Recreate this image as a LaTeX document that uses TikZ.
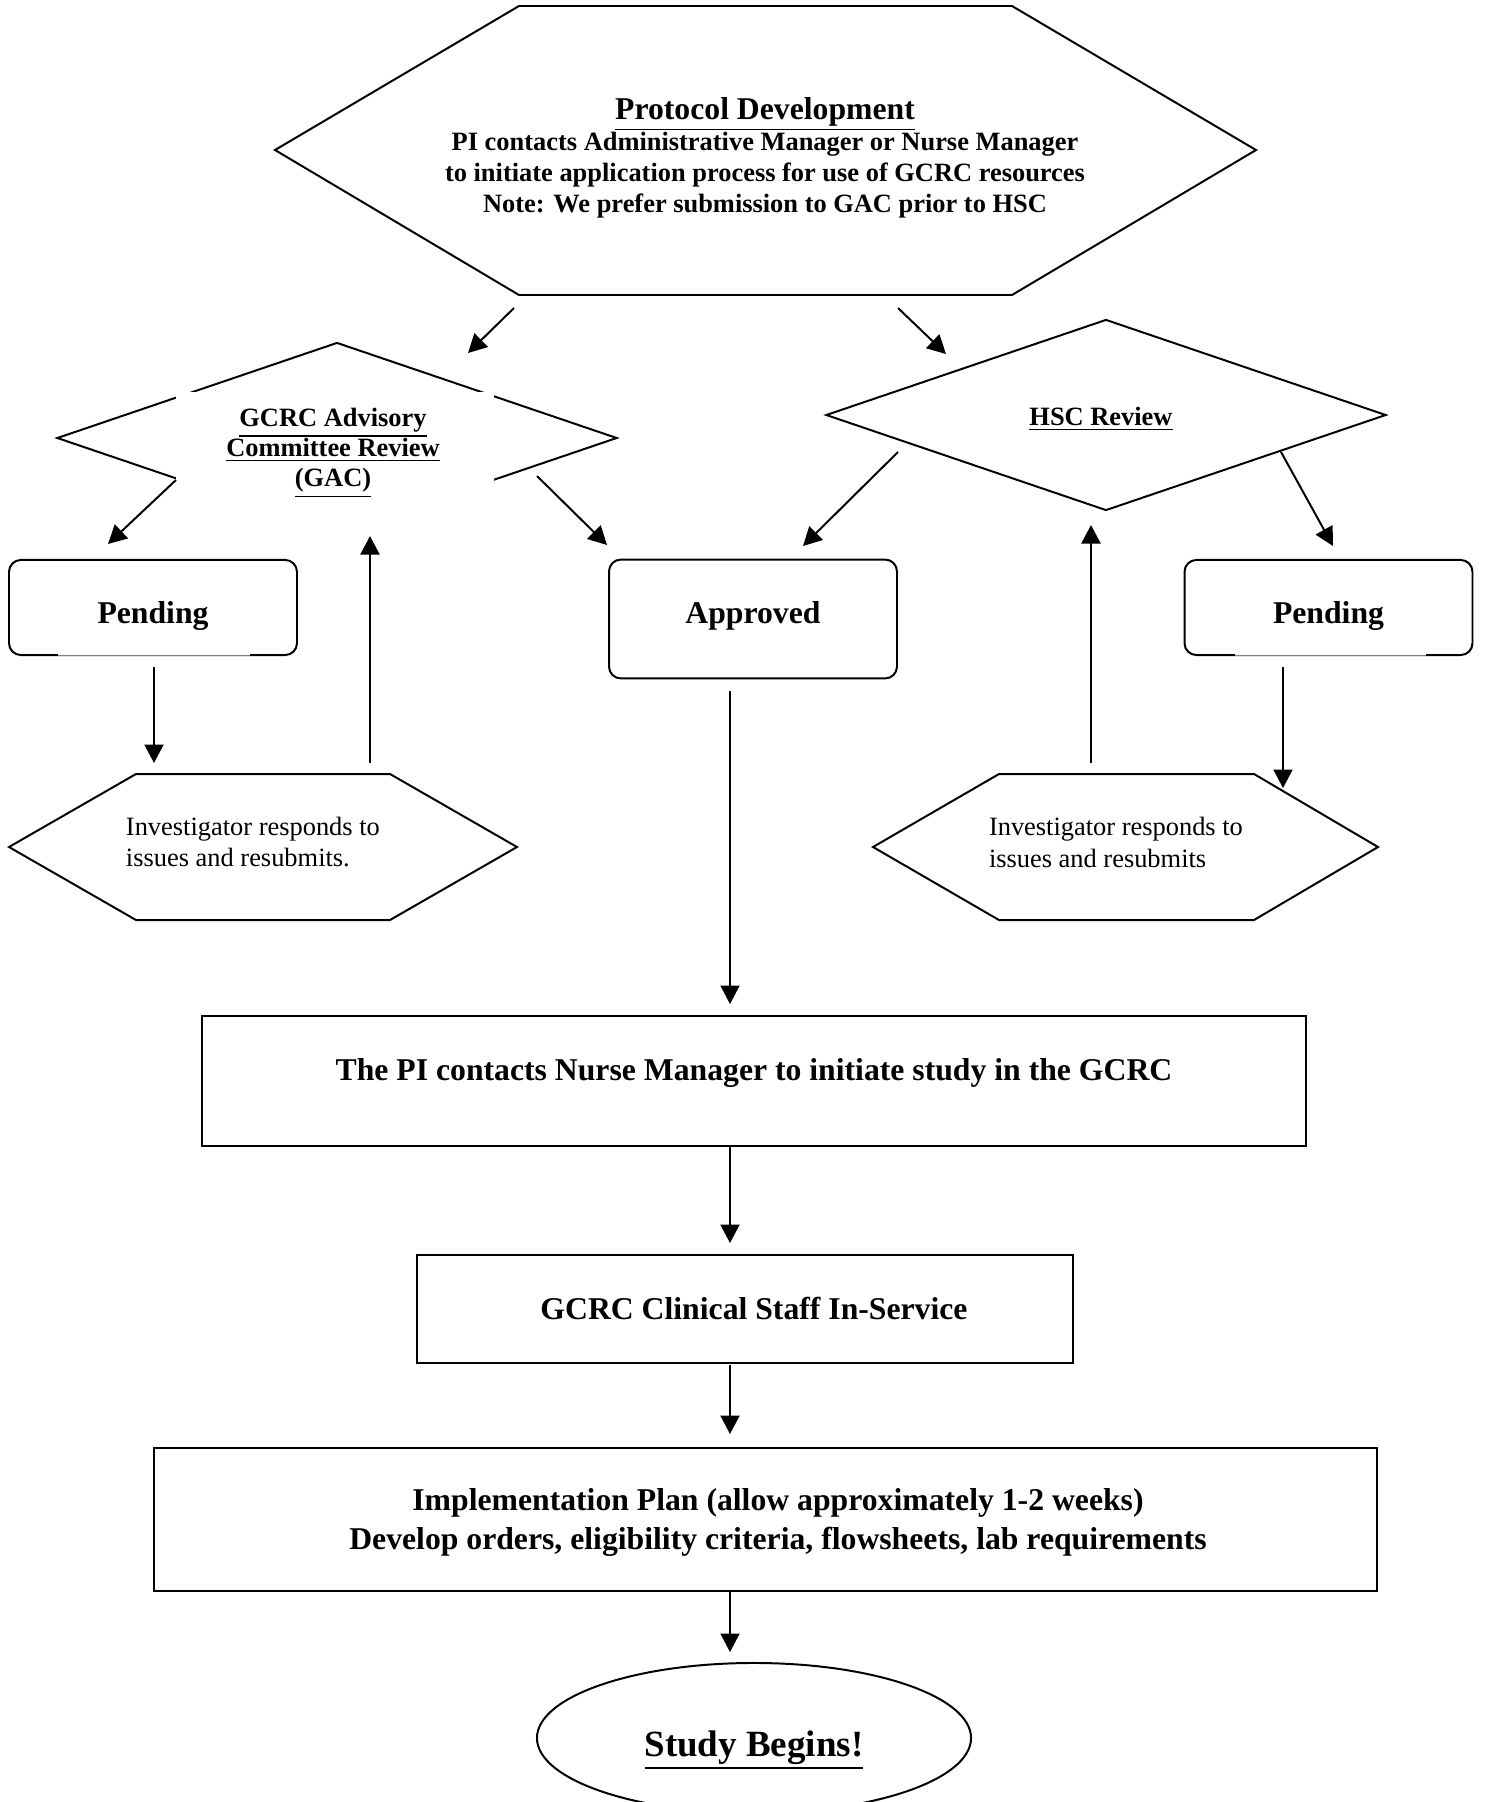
\documentclass[tikz,border=0pt]{standalone}
\usepackage{fontspec}
\setmainfont{Liberation Serif}
\usetikzlibrary{arrows.meta,shapes.geometric}

\tikzset{
  arr/.style={-{Triangle[length=7pt,width=7.2pt]}},
  rbox/.style={draw, rounded corners=4.5pt, inner sep=0pt, minimum width=109pt, minimum height=36pt},
  sqbox/.style={draw, inner sep=0pt},
  review/.style={draw, diamond, inner sep=0pt, minimum width=212pt, minimum height=72.3pt},
  bigtxt/.style={font=\fontsize{12}{14.4}\selectfont\bfseries, align=center},
  smalltxt/.style={font=\fontsize{10}{11.4}\selectfont\bfseries, align=center},
  resptxt/.style={font=\fontsize{10}{12.1}\selectfont, align=left, anchor=west, inner sep=0pt}
}

\begin{document}
\begin{tikzpicture}[x=0.3785pt, y=-0.3785pt, line width=0.75pt]
  \useasboundingbox (0,0) rectangle (1485,1802);

  % Protocol development
  \draw (275,150) -- (519,6) -- (1012,6) -- (1256,150) -- (1012,295) -- (519,295) -- cycle;
  \node[bigtxt] (protitle) at (765,114.5) {\underline{Protocol Development}};
  \node[smalltxt, font=\fontsize{10}{11.8}\selectfont\bfseries] (protxt) at (765,175)
    {PI contacts Administrative Manager or Nurse Manager\\
     to initiate application process for use of GCRC resources\\
     Note: We prefer submission to GAC prior to HSC};

  % Review diamonds
  \node[review] (gac) at (337,438) {};
  \node[fill=white, inner sep=0pt, minimum width=120.4pt, minimum height=56pt] (gacmask) at (335,466) {};
  \node[smalltxt] (gactxt) at (333,453)
    {\underline{GCRC Advisory}\\ \underline{Committee Review}\\ \underline{(GAC)}};
  \node[review] (hsc) at (1106,415) {};
  \node[smalltxt] (hsctxt) at (1101,419.5) {\underline{HSC Review}};

  % Outcome boxes
  \node[rbox] (pendl) at (153,607.5) {};
  \node[bigtxt] (pendltxt) at (153,615.5) {Pending};
  \node[rbox, minimum height=45pt] (appr) at (753,619) {};
  \node[bigtxt] (apprtxt) at (753,615.5) {Approved};
  \node[rbox] (pendr) at (1328.5,607.5) {};
  \node[bigtxt] (pendrtxt) at (1328.5,615.5) {Pending};
  % light bottom edges
  \draw[white, line width=1pt] (58,655) -- (250,655);
  \draw[gray, line width=0.3pt] (58,655) -- (250,655);
  \draw[white, line width=1pt] (1235,655) -- (1426,655);
  \draw[gray, line width=0.3pt] (1235,655) -- (1426,655);

  % Resubmission
  \draw (9,847) -- (136,774) -- (390,774) -- (517,847) -- (390,920) -- (136,920) -- cycle;
  \node[resptxt] (resl) at (125,842) {Investigator responds to\\issues and resubmits.};
  \draw (873,847) -- (999,774) -- (1254,774) -- (1378,847) -- (1254,920) -- (999,920) -- cycle;
  \node[resptxt] (resr) at (988,842) {Investigator responds to\\issues and resubmits};

  % Study start
  \node[sqbox, minimum width=417.9pt, minimum height=49.2pt] (pibox) at (754,1080.5) {};
  \node[bigtxt] (pitxt) at (754,1072.5) {The PI contacts Nurse Manager to initiate study in the GCRC};
  \node[sqbox, minimum width=248.5pt, minimum height=40.9pt] (staff) at (745,1309) {};
  \node[bigtxt] (stafftxt) at (754,1308.5) {GCRC Clinical Staff In-Service};
  \node[sqbox, minimum width=462.9pt, minimum height=54.1pt] (plan) at (765.5,1519.5) {};
  \node[bigtxt] (plantxt) at (778,1522.5)
    {Implementation Plan (allow approximately 1-2 weeks)\\
     Develop orders, eligibility criteria, flowsheets, lab requirements};
  \node[draw, ellipse, inner sep=0pt, minimum width=164.3pt, minimum height=56.8pt] (begin) at (754,1738) {};
  \node[font=\fontsize{14}{16}\selectfont\bfseries] (begintxt) at (754,1750) {\underline{Study Begins!}};

  % Arrow ends
  \coordinate (a1) at (514,308);   \coordinate (b1) at (468,353);
  \coordinate (a2) at (898,308);   \coordinate (b2) at (946,354);
  \coordinate (a3) at (176,480);   \coordinate (b3) at (108,544);
  \coordinate (a4) at (537,476);   \coordinate (b4) at (607,545);
  \coordinate (a5) at (898,452);   \coordinate (b5) at (803,546);
  \coordinate (a6) at (1281,452);  \coordinate (b6) at (1333,546);
  \coordinate (a7) at (154,667);   \coordinate (b7) at (154,763);
  \coordinate (a8) at (370,763);   \coordinate (b8) at (370,536);
  \coordinate (a9) at (1091,763);  \coordinate (b9) at (1091,525);
  \coordinate (a10) at (1283,667); \coordinate (b10) at (1283,788);
  \coordinate (a11) at (730,691);  \coordinate (b11) at (730,1004);
  \coordinate (a12) at (730,1147); \coordinate (b12) at (730,1243);
  \coordinate (a13) at (730,1365); \coordinate (b13) at (730,1434);
  \coordinate (a14) at (730,1592); \coordinate (b14) at (730,1652);

  \foreach \i in {1,...,14}
    \draw[arr] (a\i) -- (b\i);
\end{tikzpicture}
\end{document}
